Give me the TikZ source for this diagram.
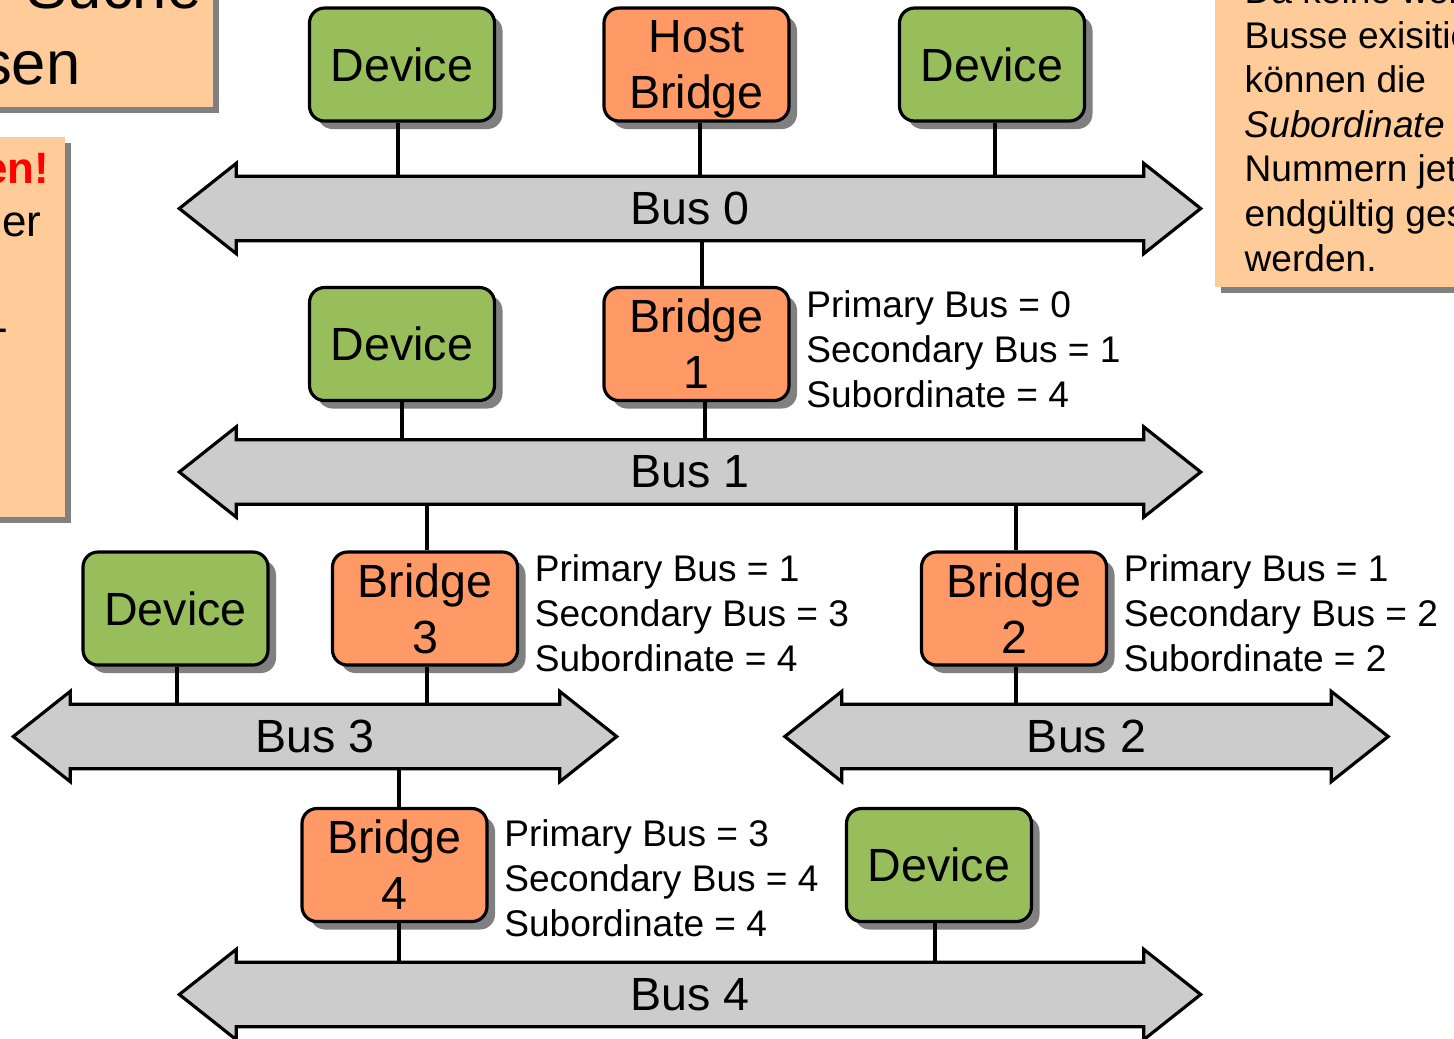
\documentclass[tikz,border=0pt]{standalone}
\usepackage{fontspec}
\setmainfont{Liberation Sans}
\usetikzlibrary{positioning,shadows,calc}

\definecolor{devgreen}{RGB}{152,190,92}
\definecolor{bridgeorange}{RGB}{255,153,102}
\definecolor{busgray}{RGB}{204,204,204}
\definecolor{notepeach}{RGB}{255,204,153}
\definecolor{shadowgray}{RGB}{128,128,128}

\tikzset{
  boxshadow/.style={drop shadow={shadow xshift=0.08cm, shadow yshift=-0.08cm, fill=shadowgray, opacity=1}},
  unitbox/.style={draw, line width=0.9pt, rounded corners=0.15cm, minimum width=1.85cm,
    minimum height=1.13cm, inner sep=0pt, align=center,
    font=\fontsize{13.25}{15.9}\selectfont, boxshadow},
  device/.style={unitbox, fill=devgreen},
  bridge/.style={unitbox, fill=bridgeorange},
  shaft/.style={minimum height=0.63cm, inner sep=0pt},
  busline/.style={draw, line width=0.9pt, fill=busgray, line join=miter},
  buslabel/.style={font=\fontsize{13.25}{15.9}\selectfont},
  regs/.style={align=left, inner sep=0pt, yshift=-0.05cm, font=\fontsize{10.55}{12.8}\selectfont},
  note/.style={fill=notepeach, drop shadow={shadow xshift=0.06cm, shadow yshift=-0.06cm, fill=shadowgray, opacity=1}},
  notetext/.style={anchor=base west, inner sep=0pt, font=\fontsize{10.55}{12.8}\selectfont},
  link/.style={line width=0.9pt},
}

% bus: name, centre x, centre y, shaft length, label
\newcommand{\busarrow}[5]{%
  \node[shaft, minimum width=#4cm] (#1) at (#2,#3) {};
  \path[busline] (#1.north west) -- ++(0,0.13) -- ($(#1.west)+(-0.57,0)$)
    -- ($(#1.south west)+(0,-0.13)$) -- (#1.south west) -- (#1.south east)
    -- ++(0,-0.13) -- ($(#1.east)+(0.57,0)$) -- ($(#1.north east)+(0,0.13)$)
    -- (#1.north east) -- cycle;
  \node[buslabel] at (#1) {#5};
}

\begin{document}
\begin{tikzpicture}
    \useasboundingbox (0,0) rectangle (14.54,-10.38);
    \clip (0,0) rectangle (14.54,-10.38);

    % Slide notes around the figure (cut by the frame)
    \fill[note] (-1,0.2) rectangle (2.13,-1.07);
    \node[anchor=base east, inner sep=0pt, font=\fontsize{17.5}{21}\selectfont] (title1) at (2.02,-0.08) {Suche};
    \node[anchor=base east, inner sep=0pt, font=\fontsize{17.5}{21}\selectfont] (title2) at (0.81,-0.845) {sen};

    \fill[note] (-1,-1.37) rectangle (0.65,-5.17);
    \node[anchor=base east, inner sep=0pt, text=red, font=\fontsize{12.5}{15}\selectfont\bfseries] (warn) at (0.50,-1.83) {en!};
    \node[anchor=base east, inner sep=0pt, font=\fontsize{12.5}{15}\selectfont] (warn2) at (0.42,-2.36) {er};
    \node[anchor=base east, inner sep=0pt, font=\fontsize{12.5}{15}\selectfont] (warn3) at (0.09,-3.42) {-};

    \fill[note] (12.15,0.2) rectangle (15,-2.87);
    \foreach \txt [count=\i from 0] in {Da keine weiteren, Busse exisitieren, können die,
        {\itshape Subordinate}, Nummern jetzt, endgültig gesetzt, werden.} {
        \node[notetext] at (12.44,{-0.034-0.446*\i}) {\txt};
    }

    % Buses
    \busarrow{bus0}{6.90}{-2.085}{9.06}{Bus 0}
    \busarrow{bus1}{6.90}{-4.72}{9.06}{Bus 1}
    \busarrow{bus3}{3.15}{-7.365}{4.88}{Bus 3}
    \busarrow{bus2}{10.865}{-7.365}{4.88}{Bus 2}
    \busarrow{bus4}{6.90}{-9.945}{9.06}{Bus 4}

    % Devices and bridges
    \node[device] (dev0a) at (4.02,-0.645) {Device};
    \node[bridge] (host) at (6.965,-0.645) {Host\\\smash{Bridge}};
    \node[device] (dev0b) at (9.92,-0.645) {Device};

    \node[device] (dev1) at (4.02,-3.44) {Device};
    \node[bridge] (br1) at (6.965,-3.44) {Bridge\\1};

    \node[device] (dev3) at (1.755,-6.085) {Device};
    \node[bridge] (br3) at (4.25,-6.085) {Bridge\\3};
    \node[bridge] (br2) at (10.14,-6.085) {Bridge\\2};

    \node[bridge] (br4) at (3.945,-8.65) {Bridge\\4};
    \node[device] (dev4) at (9.39,-8.65) {Device};

    % Bus numbers held by each bridge
    \node[regs, right=0.15cm of br1] (reg1) {Primary Bus = 0\\Secondary Bus = 1\\Subordinate = 4};
    \node[regs, right=0.15cm of br3] (reg3) {Primary Bus = 1\\Secondary Bus = 3\\Subordinate = 4};
    \node[regs, right=0.15cm of br2] (reg2) {Primary Bus = 1\\Secondary Bus = 2\\Subordinate = 2};
    \node[regs, right=0.15cm of br4, yshift=-0.08cm] (reg4) {Primary Bus = 3\\Secondary Bus = 4\\Subordinate = 4};

    % Connections down to the bus below
    \foreach \n/\b/\dx in {dev0a/bus0/-0.04, host/bus0/0.035, dev0b/bus0/0.03, dev1/bus1/0,
        br1/bus1/0.085, dev3/bus3/0.015, br3/bus3/0.02, br2/bus2/0.02, br4/bus4/0.045, dev4/bus4/-0.04} {
        \draw[link] ([xshift=\dx cm]\n.south) -- ([xshift=\dx cm]\n.south |- \b.north);
    }
    % Connections up to the bus above
    \foreach \n/\b/\dx in {br1/bus0/0.055, br3/bus1/0.02, br2/bus1/0.02, br4/bus3/0.045} {
        \draw[link] ([xshift=\dx cm]\n.north) -- ([xshift=\dx cm]\n.north |- \b.south);
    }
\end{tikzpicture}
\end{document}
